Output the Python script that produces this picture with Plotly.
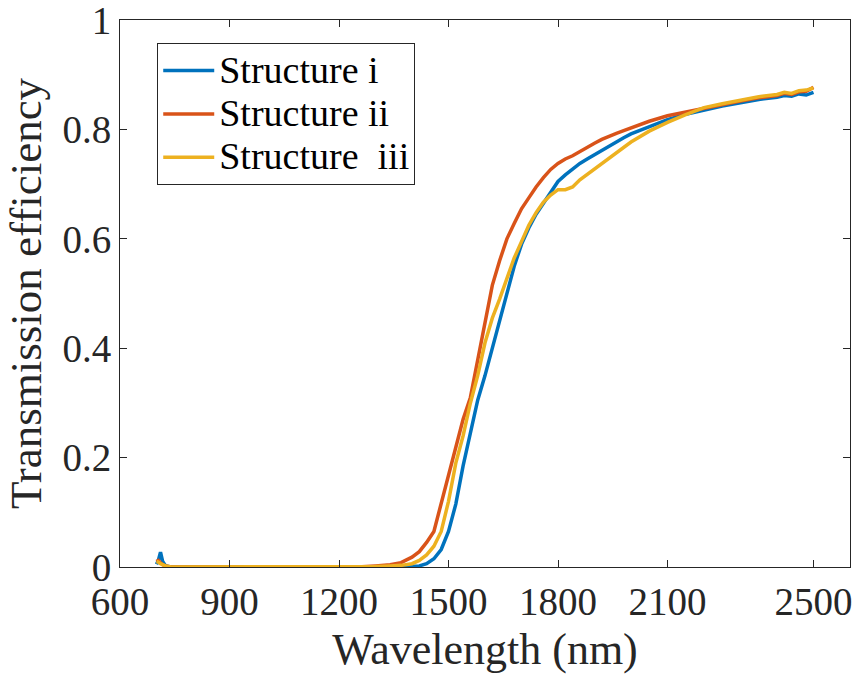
import plotly.graph_objects as go

wavelength = [700, 705, 711, 717, 725, 740, 760, 800, 900, 1000, 1100, 1200, 1250, 1300,
              1340, 1370, 1400, 1420, 1440, 1460, 1480, 1500, 1520, 1540, 1560, 1580, 1600,
              1620, 1640, 1660, 1680, 1700, 1720, 1740, 1760, 1780, 1800, 1820, 1840, 1860,
              1880, 1900, 1920, 1940, 1960, 1980, 2000, 2050, 2100, 2150, 2200, 2250, 2300,
              2350, 2400, 2420, 2440, 2460, 2480, 2500]

structure_i = [0.005, 0.012, 0.027, 0.010, 0.002, 0.0, 0.0, 0.0, 0.0, 0.0, 0.0, 0.0, 0.0, 0.0,
               0.0, 0.001, 0.001, 0.002, 0.006, 0.015, 0.032, 0.065, 0.115, 0.185, 0.245, 0.305, 0.350,
               0.400, 0.450, 0.505, 0.550, 0.590, 0.620, 0.645, 0.665, 0.685, 0.705, 0.717, 0.728, 0.738,
               0.746, 0.754, 0.762, 0.770, 0.778, 0.785, 0.792, 0.805, 0.818, 0.828, 0.836, 0.843, 0.849,
               0.855, 0.859, 0.862, 0.861, 0.865, 0.863, 0.868]

structure_ii = [0.010, 0.012, 0.008, 0.004, 0.002, 0.0, 0.0, 0.0, 0.0, 0.0, 0.0, 0.0, 0.0, 0.002,
                0.004, 0.008, 0.018, 0.028, 0.045, 0.065, 0.115, 0.170, 0.220, 0.270, 0.310, 0.380, 0.450,
                0.515, 0.560, 0.600, 0.628, 0.655, 0.675, 0.695, 0.712, 0.727, 0.738, 0.746, 0.752, 0.760,
                0.768, 0.775, 0.782, 0.788, 0.793, 0.798, 0.803, 0.815, 0.825, 0.832, 0.839, 0.846, 0.852,
                0.858, 0.862, 0.866, 0.864, 0.869, 0.870, 0.877]

structure_iii = [0.010, 0.009, 0.006, 0.004, 0.002, 0.0, 0.0, 0.0, 0.0, 0.0, 0.0, 0.0, 0.0, 0.001,
                 0.002, 0.003, 0.006, 0.012, 0.022, 0.038, 0.065, 0.120, 0.190, 0.240, 0.300, 0.350, 0.410,
                 0.455, 0.490, 0.530, 0.565, 0.595, 0.625, 0.648, 0.667, 0.680, 0.690, 0.690, 0.695, 0.708,
                 0.718, 0.728, 0.738, 0.748, 0.758, 0.768, 0.777, 0.797, 0.813, 0.827, 0.840, 0.847, 0.854,
                 0.860, 0.864, 0.868, 0.866, 0.871, 0.872, 0.876]

series_names = ["Structure i", "Structure ii", "Structure\u00a0\u00a0iii"]
series_colors = ["#0072BD", "#D95319", "#EDB120"]
x_ticks = [600, 900, 1200, 1500, 1800, 2100, 2500]
y_ticks = [0, 0.2, 0.4, 0.6, 0.8, 1]
y_tick_labels = ["0", "0.2", "0.4", "0.6", "0.8", "1"]

FONT = "Liberation Serif, Times New Roman, serif"

fig = go.Figure()
for name, ys, col in zip(series_names, [structure_i, structure_ii, structure_iii], series_colors):
    fig.add_trace(go.Scatter(x=wavelength, y=ys, mode="lines",
                             name='<span style="font-size:38px">' + name + '</span>',
                             line=dict(color=col, width=3.5)))

axis_common = dict(showline=True, linecolor="#262626", linewidth=1, mirror="allticks",
                   ticks="inside", ticklen=7, tickcolor="#262626", showgrid=False,
                   zeroline=False, ticklabeloverflow="allow", automargin=False,
                   tickfont=dict(family=FONT, size=39, color="#262626"))

fig.update_layout(
    width=858, height=677,
    margin=dict(l=120, r=8, t=20, b=110),
    paper_bgcolor="white", plot_bgcolor="white",
    font=dict(family=FONT, color="#262626"),
    showlegend=True,
    legend=dict(x=0.051, y=0.958, xanchor="left", yanchor="top",
                bgcolor="white", bordercolor="#262626", borderwidth=1,
                font=dict(family=FONT, size=31, color="black"),
                itemwidth=51, tracegroupgap=0),
    xaxis=dict(range=[600, 2600], tickvals=x_ticks, ticktext=[str(v) for v in x_ticks],
               title=dict(text="Wavelength (nm)", font=dict(family=FONT, size=44, color="#262626"),
                          standoff=11),
               **axis_common),
    yaxis=dict(range=[0, 1.0002], tickvals=y_ticks, ticktext=y_tick_labels,
               title=dict(text="Transmission efficiency", font=dict(family=FONT, size=45, color="#262626"),
                          standoff=6),
               **axis_common),
)

fig.write_html("out.html")
